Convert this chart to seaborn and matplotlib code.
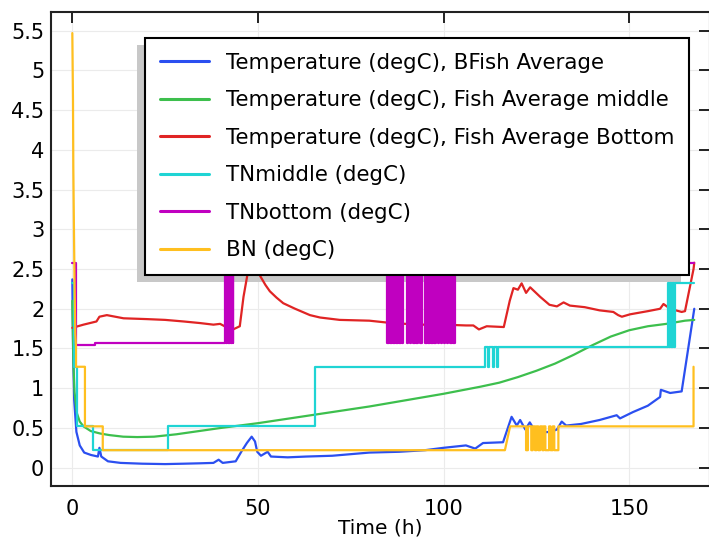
import matplotlib
matplotlib.use("Agg")
import matplotlib.pyplot as plt
from matplotlib.patches import Rectangle
from matplotlib.ticker import StrMethodFormatter
import pandas as pd
import seaborn as sns

# ---- data (time in h, temperature in degC) ----
blue_t = [0, 0.2, 0.5, 1.1, 2, 3.2, 5, 6.9, 7.3, 7.8, 9.6, 13, 18.8, 25, 30, 34.4, 38,
          39.4, 40.5, 44, 45.5, 47, 48.3, 49.2, 49.8, 50.8, 52.6, 53.5, 58, 63, 70, 75,
          80, 88, 95, 100, 106, 108.5, 110.6, 116, 118.3, 119.7, 120.6, 122, 123.2,
          124.9, 128.7, 130.5, 131.8, 133, 137, 142, 146.6, 147.5, 151, 155, 158.3,
          158.5, 161, 164.1, 167.5]
blue_v = [2.37, 1.5, 0.85, 0.45, 0.28, 0.19, 0.16, 0.14, 0.25, 0.14, 0.08, 0.06, 0.05,
          0.045, 0.05, 0.055, 0.06, 0.1, 0.06, 0.08, 0.2, 0.31, 0.39, 0.33, 0.2, 0.15,
          0.2, 0.14, 0.13, 0.14, 0.15, 0.17, 0.19, 0.2, 0.22, 0.25, 0.28, 0.24, 0.31,
          0.32, 0.64, 0.53, 0.6, 0.48, 0.57, 0.44, 0.45, 0.48, 0.58, 0.53, 0.55, 0.6,
          0.66, 0.62, 0.7, 0.78, 0.89, 0.98, 0.94, 0.96, 2.0]

green_t = [0, 0.3, 0.6, 1.2, 2, 3, 5, 7.5, 10, 13.7, 17.5, 22, 28, 34, 40, 50, 60, 70,
           80, 90, 100, 110, 115, 120, 125, 130, 135, 140, 145, 150, 155, 160, 165, 167.5]
green_v = [2.1, 1.3, 0.95, 0.69, 0.58, 0.52, 0.46, 0.43, 0.41, 0.39, 0.385, 0.39, 0.42,
           0.46, 0.5, 0.56, 0.63, 0.7, 0.77, 0.85, 0.93, 1.02, 1.07, 1.14, 1.22, 1.31,
           1.42, 1.54, 1.65, 1.73, 1.78, 1.81, 1.85, 1.86]

red_t = [0, 3, 6.5, 7.3, 9.3, 13.8, 20, 25, 30, 34.4, 38, 39.8, 41, 43.3, 45.1, 46.1,
         47.8, 49.5, 50.5, 52, 53.2, 55, 56.8, 60, 64, 66.7, 72, 80, 86, 93.6, 100, 106,
         108, 109.5, 111.6, 116.2, 117.8, 118.8, 120, 121, 122.2, 123.3, 126, 128.5,
         130.5, 132.3, 134, 138, 142, 145.7, 147, 148, 150.2, 155, 158.3, 159.2, 161,
         164.1, 165, 167.3, 167.5]
red_v = [1.76, 1.8, 1.84, 1.9, 1.92, 1.88, 1.87, 1.86, 1.84, 1.82, 1.8, 1.81, 1.78, 1.74,
         1.78, 2.15, 2.6, 2.55, 2.42, 2.3, 2.22, 2.14, 2.07, 2.0, 1.92, 1.89, 1.86, 1.85,
         1.82, 1.8, 1.8, 1.79, 1.79, 1.74, 1.78, 1.77, 2.1, 2.26, 2.24, 2.32, 2.2, 2.27,
         2.15, 2.05, 2.03, 2.08, 2.04, 2.02, 1.98, 1.96, 1.92, 1.9, 1.93, 1.97, 2.0, 2.06,
         2.0, 1.96, 1.97, 2.5, 2.58]

# step signals: level held from each time until the next one
cyan_t = [0, 0.4, 1.2, 5.5, 25.8, 65.4]
cyan_v = [2.33, 1.27, 0.52, 0.22, 0.52, 1.27]
cyan_sw1 = [111.2, 111.9, 112.3, 113.2, 113.5, 114.4, 114.7]      # 1.27 <-> 1.52
cyan_sw2 = [160.5, 160.7, 160.95, 161.2, 161.4, 161.6, 161.85, 162.1, 162.3]  # 1.52 <-> 2.33
cyan_end = 167.5

mag_t = [0, 1.1, 6]
mag_v = [2.58, 1.55, 1.57]
mag_sw = [41.1, 41.4, 41.7, 42.0, 42.4, 42.7, 43.0, 43.2, 43.4,
          84.8, 85.2, 85.6, 86.0, 86.4, 86.8, 87.2, 87.6, 88.0, 88.4, 88.8, 89.1,
          90.1, 90.5, 90.9, 91.3, 91.8, 92.2, 92.6, 93.0, 93.5, 94.1,
          95.0, 95.4, 95.8, 96.2, 96.7, 97.1, 97.5, 97.9, 98.4, 98.8,
          99.2, 99.6, 100.1, 100.5, 100.9, 101.3, 101.8, 102.2, 102.6, 103.1]  # 1.57 <-> 2.58
mag_end = 167.5

yel_t = [0, 0.18, 0.27, 0.45, 0.6, 0.8, 1.0, 1.0, 2.3, 2.3, 3.4, 3.4, 8.2, 8.2, 116.5, 117.9]
yel_v = [5.47, 4.62, 3.78, 2.95, 2.32, 1.69, 1.52, 1.27, 1.27, 1.27, 1.27, 0.52, 0.52,
         0.22, 0.22, 0.52]
yel_sw = [122.2, 122.7, 123.6, 124.0, 124.6, 125.0, 125.5, 126.0, 126.6, 127.0, 127.4,
          128.4, 128.8, 129.4, 129.8, 130.9]  # 0.52 <-> 0.22
yel_end = [167.3, 167.3]
yel_end_v = [0.52, 1.27]

labels = ["Temperature (degC), BFish Average",
          "Temperature (degC), Fish Average middle",
          "Temperature (degC), Fish Average Bottom",
          "TNmiddle (degC)", "TNbottom (degC)", "BN (degC)"]
colors = ["#2b4ff0", "#3dbf4d", "#e02424", "#1fd4d4", "#c000c0", "#ffbf1f"]


def hold(times, levels):
    xs, ys = [times[0]], [levels[0]]
    for t, a, b in zip(times[1:], levels[:-1], levels[1:]):
        xs += [t, t]
        ys += [a, b]
    return xs, ys


def toggle(xs, ys, switches, other):
    cur, alt = ys[-1], other
    for t in switches:
        xs += [t, t]
        ys += [cur, alt]
        cur, alt = alt, cur
    return xs, ys


cx, cy = hold(cyan_t, cyan_v)
cx, cy = toggle(cx, cy, cyan_sw1, 1.52)
cx, cy = toggle(cx, cy, cyan_sw2, 2.33)
cx, cy = cx + [cyan_end], cy + [cy[-1]]

mx, my = hold(mag_t, mag_v)
mx, my = toggle(mx, my, mag_sw, 2.58)
mx, my = mx + [mag_end], my + [my[-1]]

yx, yy = list(yel_t), list(yel_v)
yx, yy = toggle(yx, yy, yel_sw, 0.22)
yx, yy = yx + yel_end, yy + yel_end_v

series = [(blue_t, blue_v), (green_t, green_v), (red_t, red_v), (cx, cy), (mx, my), (yx, yy)]

sns.set_style("white")
plt.rcParams["font.family"] = ["DejaVu Sans"]
plt.rcParams["text.color"] = "black"

fig = plt.figure(figsize=(7.09, 5.42), dpi=100)
ax = fig.add_axes([0.07236, 0.10387, 0.92835, 0.87454])

for (xs, ys), lab, col in zip(series, labels, colors):
    df = pd.DataFrame({"t": xs, "v": ys})
    sns.lineplot(data=df, x="t", y="v", ax=ax, color=col, lw=1.6, label=lab,
                 estimator=None, sort=False, legend=False)

ax.set_xlim(-5.66, 171.6)
ax.set_ylim(-0.227, 5.739)
ax.set_xticks([0, 50, 100, 150])
ax.set_yticks([0, 0.5, 1, 1.5, 2, 2.5, 3, 3.5, 4, 4.5, 5, 5.5])
ax.yaxis.set_major_formatter(StrMethodFormatter("{x:g}"))
ax.grid(True, color="#ebebeb", lw=0.8)
ax.set_axisbelow(True)
for sp in ax.spines.values():
    sp.set_color("#222222")
    sp.set_linewidth(1.5)
ax.tick_params(direction="in", length=8, width=1.4, color="#222222", top=True, right=True,
               labelsize=15, labelcolor="black")
ax.tick_params(axis="x", pad=9.5)
ax.tick_params(axis="y", pad=5)
ax.set_xlabel("Time (h)", fontsize=14.5, labelpad=0, color="black")
ax.set_ylabel("")

leg = ax.legend(loc="upper left", bbox_to_anchor=(145 / 709, 1 - 38 / 542),
                bbox_transform=fig.transFigure, borderaxespad=0, fontsize=15.4,
                fancybox=False, framealpha=1, edgecolor="black", handlelength=2.3,
                handletextpad=0.78, labelspacing=0.815, borderpad=0.7, labelcolor="black")
leg.get_frame().set_linewidth(1.5)
for h in leg.get_lines():
    h.set_linewidth(2.2)

# grey drop shadow of the legend, offset to the lower left, beneath the curves
fig.canvas.draw()
bb = leg.get_window_extent()
inv = ax.transAxes.inverted()
(x0, y0), (x1, y1) = inv.transform([[bb.x0 - 8, bb.y0 - 7], [bb.x1 - 8, bb.y1 - 7]])
ax.add_patch(Rectangle((x0, y0), x1 - x0, y1 - y0, transform=ax.transAxes,
                       facecolor="#c8c8c8", edgecolor="none", zorder=1.5))

fig.savefig("out.png", dpi=100)
